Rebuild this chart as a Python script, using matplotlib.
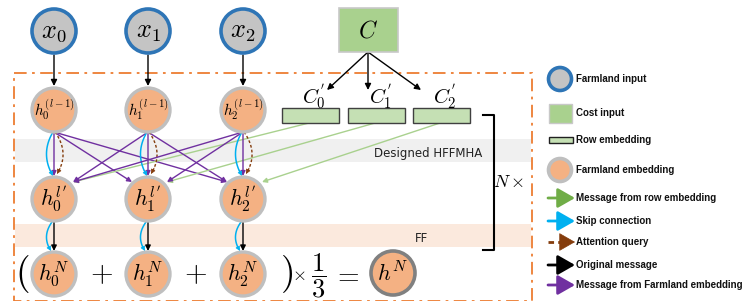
import numpy as np
import matplotlib.pyplot as plt
from matplotlib.patches import Circle, Rectangle, FancyArrowPatch

plt.rcParams['mathtext.fontset'] = 'cm'

# layout of the diagram (pixel space)
col_x = [54, 148, 243]
y_input, y_prev, y_cur, y_out = 31, 110, 199, 274
node_r = 22

input_labels = [r'$x_0$', r'$x_1$', r'$x_2$']
prev_labels = [r'$h_0^{(l-1)}$', r'$h_1^{(l-1)}$', r'$h_2^{(l-1)}$']
cur_labels = [r"$h_0^{l'}$", r"$h_1^{l'}$", r"$h_2^{l'}$"]
out_labels = [r'$h_0^N$', r'$h_1^N$', r'$h_2^N$']

row_box_x = [282, 348, 413]
row_box_labels = [r"$C_0^{'}$", r"$C_1^{'}$", r"$C_2^{'}$"]

legend_labels = ['Farmland input', 'Cost input', 'Row embedding', 'Farmland embedding',
                 'Message from row embedding', 'Skip connection', 'Attention query',
                 'Original message', 'Message from Farmland embedding']
legend_y = [79, 113, 140, 170, 198, 221, 242, 265, 285]

GRAY_FILL = '#C4C4C4'
BLUE_EDGE = '#2E75B6'
ORANGE = '#F4B183'
RING = '#BFBFBF'
PURPLE = '#7030A0'
SKY = '#00B0F0'
BROWN = '#843C0C'
LGREEN = '#A9D18E'
GREEN = '#70AD47'

fig = plt.figure(figsize=(7.42, 3.01), dpi=100)
ax = fig.add_axes([0, 0, 1, 1])
ax.set_xlim(0, 742)
ax.set_ylim(301, 0)
ax.axis('off')


def arrow(p0, p1, color='k', lw=1.0, ms=8, z=3, style='-|>'):
    a = FancyArrowPatch(p0, p1, arrowstyle=style, mutation_scale=ms, color=color,
                        lw=lw, shrinkA=0, shrinkB=0, zorder=z)
    ax.add_patch(a)


def arc(p0, p1, bulge, color, ls='-', lw=1.0, ms=7):
    cx = (p0[0] + p1[0]) / 2 + bulge
    cy = (p0[1] + p1[1]) / 2
    t = np.linspace(0, 1, 50)
    xs = (1 - t) ** 2 * p0[0] + 2 * (1 - t) * t * cx + t ** 2 * p1[0]
    ys = (1 - t) ** 2 * p0[1] + 2 * (1 - t) * t * cy + t ** 2 * p1[1]
    ax.plot(xs[:-4], ys[:-4], color=color, ls=ls, lw=lw, zorder=3)
    arrow((xs[-8], ys[-8]), (xs[-1], ys[-1]), color=color, lw=0.5, ms=ms, z=4)


def node(x, y, label, fc=ORANGE, ec=RING, size=15, lw=2.4):
    ax.add_patch(Circle((x, y), node_r, fc=fc, ec=ec, lw=lw, zorder=5))
    ax.text(x, y, label, ha='center', va='center', fontsize=size, zorder=6)


# background bands and the dash-dot frame
ax.add_patch(Rectangle((15, 139), 516, 23, fc='#F0F0F0', ec='none', zorder=0))
ax.add_patch(Rectangle((15, 224), 516, 23, fc='#FBE9DD', ec='none', zorder=0))
ax.add_patch(Rectangle((14, 73), 518, 228, fc='none', ec='#ED7D31', lw=1.3,
                       ls=(0, (7, 3, 1.5, 3)), zorder=1))
ax.text(428, 153, 'Designed HFFMHA', ha='center', va='center', fontsize=8.5, color='#222222')
ax.text(422, 239, 'FF', ha='center', va='center', fontsize=8.5, color='#222222')

# cost input and row embeddings
ax.add_patch(Rectangle((339, 8), 59, 44, fc=LGREEN, ec='#C8C8C8', lw=1.2, zorder=5))
ax.text(368, 30, r'$C$', ha='center', va='center', fontsize=17, zorder=6)
for bx, lab, ex in zip(row_box_x, row_box_labels, [327, 368, 421]):
    ax.add_patch(Rectangle((bx, 108), 57, 15, fc='#C5E0B4', ec='#404040', lw=1.0, zorder=5))
    ax.text(bx + 32, 97, lab, ha='center', va='center', fontsize=15, zorder=6)
    arrow((368, 52), (ex, 90), lw=1.0, ms=9)

# N x bracket
ax.plot([483, 494, 494, 483], [115, 115, 250, 250], color='k', lw=1.5, zorder=2)
ax.text(509, 182, r'$N\times$', ha='center', va='center', fontsize=13)

# connections between layers
for i, x in enumerate(col_x):
    arrow((x, y_input + 24), (x, y_prev - 24), lw=1.0, ms=9)
    top = (x, y_prev + 22)
    # cross messages from other farmland embeddings
    for j, tx in enumerate(col_x):
        if j == i:
            continue
        dx = -16 if j > i else 19
        arrow(top, (tx + dx, y_cur - 17), color=PURPLE, lw=1.0, ms=7)
    arrow(top, (x, y_cur - 23), color=PURPLE, lw=1.0, ms=7)
    arc((x - 1, y_prev + 22), (x - 1, y_cur - 23), -13, SKY, lw=1.1)
    arc((x + 1, y_prev + 22), (x + 3, y_cur - 25), 14, BROWN, ls=(0, (2, 1.5)), lw=1.0)
    # row embedding messages
    bx = row_box_x[i] + 27
    arrow((bx, 123), (x + 19, y_cur - 17), color=LGREEN, lw=1.0, ms=7)
    # feed forward
    arrow((x, y_cur + 23), (x, y_out - 23), lw=1.0, ms=8)
    arc((x - 2, y_cur + 23), (x - 3, y_out - 23), -10, SKY, lw=1.1)

for x, a, b, c, d in zip(col_x, input_labels, prev_labels, cur_labels, out_labels):
    node(x, y_input, a, fc=GRAY_FILL, ec=BLUE_EDGE, size=19, lw=2.6)
    node(x, y_prev, b, size=11)
    node(x, y_cur, c, size=16)
    node(x, y_out, d, size=16)

# averaging equation
ax.text(22, 274, r'$($', ha='center', va='center', fontsize=27)
ax.text(101, 274, r'$+$', ha='center', va='center', fontsize=21)
ax.text(195, 274, r'$+$', ha='center', va='center', fontsize=21)
ax.text(286, 274, r'$)$', ha='center', va='center', fontsize=27)
ax.text(299, 275, r'$\times$', ha='center', va='center', fontsize=13)
ax.text(319, 276, r'$\dfrac{1}{3}$', ha='center', va='center', fontsize=19)
ax.text(346, 275, r'$=$', ha='center', va='center', fontsize=20)
node(393, 273, r'$h^N$', ec='#808080', size=16, lw=2.6)

# legend
lx = 560
ax.add_patch(Circle((lx, legend_y[0]), 11.5, fc=GRAY_FILL, ec=BLUE_EDGE, lw=2.6, zorder=5))
ax.add_patch(Rectangle((549, legend_y[1] - 9.5), 23, 19, fc=LGREEN, ec='#C8C8C8', lw=1.0))
ax.add_patch(Rectangle((549, legend_y[2] - 3), 24, 6, fc='#C5E0B4', ec='#202020', lw=1.0))
ax.add_patch(Circle((lx, legend_y[3]), 11.5, fc=ORANGE, ec=RING, lw=2.6, zorder=5))
arrow_cols = [GREEN, SKY, BROWN, 'k', PURPLE]
for k, col in enumerate(arrow_cols):
    y = legend_y[4 + k]
    if col == BROWN:
        ax.plot([548, 565], [y, y], color=col, lw=2.0, ls=(0, (2, 1.5)))
        arrow((563, y), (575, y), color=col, lw=0.5,
              style='-|>,head_length=0.7,head_width=0.4', ms=15)
    else:
        arrow((548, y), (575, y), color=col, lw=2.0,
              style='-|>,head_length=0.7,head_width=0.4', ms=15)
for lab, y in zip(legend_labels, legend_y):
    ax.text(576, y, lab, ha='left', va='center', fontsize=7, fontweight='bold',
            family='Liberation Sans', color='#111111')

fig.savefig('out.png', dpi=100)
